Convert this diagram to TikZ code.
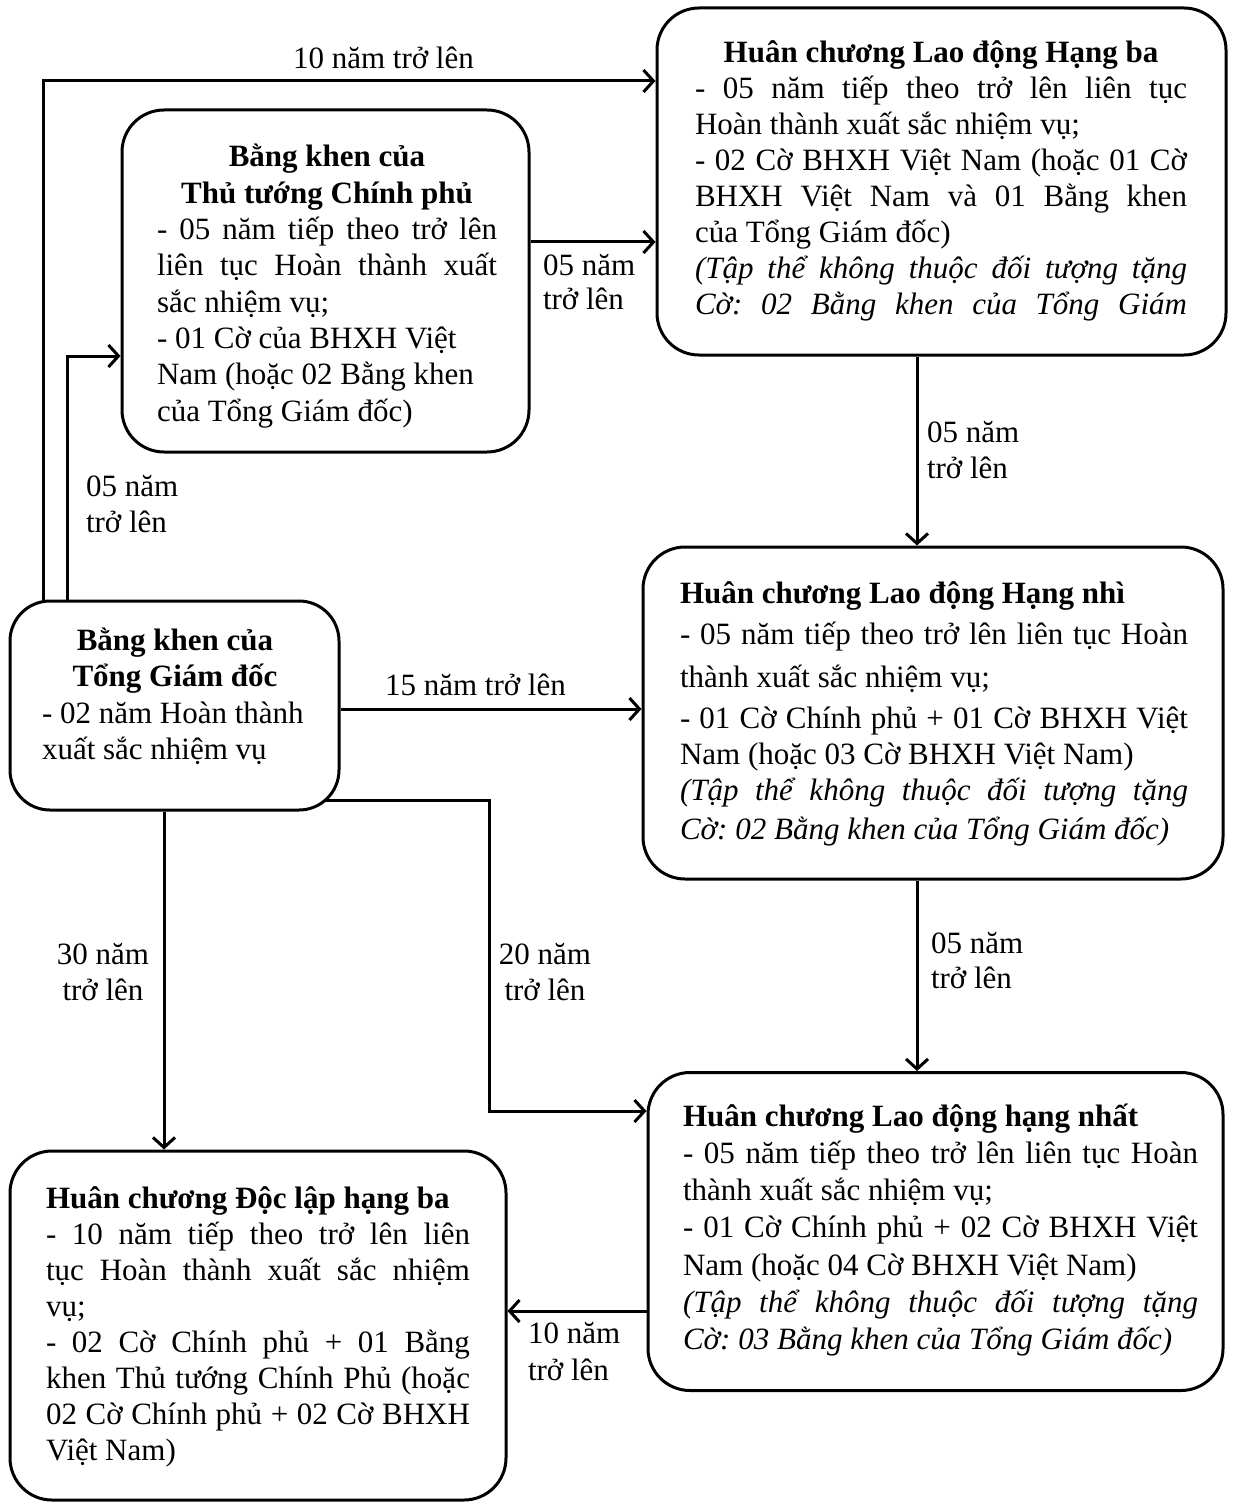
\documentclass[tikz,border=0pt]{standalone}
\usepackage{fontspec}
\setmainfont{Liberation Serif}
\usetikzlibrary{arrows.meta,calc}
\frenchspacing
\newcommand\JL[1]{\hbox to\hsize{#1}}
\newcommand\LL[1]{\hbox to\hsize{#1\hfil}}
\newcommand\CL[1]{\hbox to\hsize{\hfil#1\hfil}}
\newcommand\TB[3]{\vtop{\hsize=#1pt\baselineskip=#2pt\lineskiplimit=-100pt\lineskip=0pt #3}}
\tikzset{
  box/.style={draw, line width=3pt, rounded corners=42pt, inner sep=0pt},
  txt/.style={anchor=base west, inner sep=0pt, outer sep=0pt, font=\fontsize{31}{36}\selectfont\frenchspacing},
  arr/.style={line width=3pt, -{Straight Barb[length=10pt,width=22pt,line width=3pt]}}
}
\begin{document}
\begin{tikzpicture}[x=1pt,y=-1pt]
\fill[white] (0,0) rectangle (1238,1503);
\useasboundingbox (0,0) rectangle (1238,1503);
% boxes
\node[box, minimum width=407pt, minimum height=342pt] (ttg) at (325.5,281) {};
\node[box, minimum width=569pt, minimum height=347pt] (h3) at (941.5,181.5) {};
\node[box, minimum width=329pt, minimum height=209pt, rounded corners=40pt] (tgd) at (174.5,705.5) {};
\node[box, minimum width=580pt, minimum height=332pt] (h2) at (933,713) {};
\node[box, minimum width=575pt, minimum height=318pt] (h1) at (935.5,1231.5) {};
\node[box, minimum width=496pt, minimum height=349pt] (h0) at (258,1325.5) {};
% box texts
\node[txt] (ttgT) at (157,167) {\TB{340}{36.3}{%
\CL{\bfseries Bằng khen của}%
\CL{\bfseries Thủ tướng Chính phủ}%
\JL{- 05 năm tiếp theo trở lên}%
\JL{liên tục Hoàn thành xuất}%
\LL{sắc nhiệm vụ;}%
\LL{- 01 Cờ của BHXH Việt}%
\LL{Nam (hoặc 02 Bằng khen}%
\LL{của Tổng Giám đốc)}}};
\node[txt] (h3T) at (695,63) {\TB{492}{36}{%
\CL{\bfseries Huân chương Lao động Hạng ba}%
\JL{- 05 năm tiếp theo trở lên liên tục}%
\LL{Hoàn thành xuất sắc nhiệm vụ;}%
\JL{- 02 Cờ BHXH Việt Nam (hoặc 01 Cờ}%
\JL{BHXH Việt Nam và 01 Bằng khen}%
\LL{của Tổng Giám đốc)}%
\JL{\itshape (Tập thể không thuộc đối tượng tặng}%
\JL{\itshape Cờ: 02 Bằng khen của Tổng Giám}}};
\node[txt] (tgdT) at (42,650) {\TB{266}{36.5}{%
\CL{\bfseries Bằng khen của}%
\CL{\bfseries Tổng Giám đốc}%
\LL{- 02 năm Hoàn thành}%
\LL{xuất sắc nhiệm vụ}}};
\node[txt] (h2T) at (680,603) {\TB{508}{36}{%
\LL{\bfseries Huân chương Lao động Hạng nhì}\vskip5pt
\JL{- 05 năm tiếp theo trở lên liên tục Hoàn}\vskip7pt
\LL{thành xuất sắc nhiệm vụ;}\vskip5pt
\JL{- 01 Cờ Chính phủ + 01 Cờ BHXH Việt}%
\LL{Nam (hoặc 03 Cờ BHXH Việt Nam)}%
\JL{\itshape (Tập thể không thuộc đối tượng tặng}\vskip3pt
\LL{\itshape Cờ: 02 Bằng khen của Tổng Giám đốc)}}};
\node[txt] (h1T) at (683,1126) {\TB{515}{37.3}{%
\LL{\bfseries Huân chương Lao động hạng nhất}%
\JL{- 05 năm tiếp theo trở lên liên tục Hoàn}%
\LL{thành xuất sắc nhiệm vụ;}%
\JL{- 01 Cờ Chính phủ + 02 Cờ BHXH Việt}%
\LL{Nam (hoặc 04 Cờ BHXH Việt Nam)}%
\JL{\itshape (Tập thể không thuộc đối tượng tặng}%
\LL{\itshape Cờ: 03 Bằng khen của Tổng Giám đốc)}}};
\node[txt] (h0T) at (46,1208) {\TB{424}{36}{%
\LL{\bfseries Huân chương Độc lập hạng ba}%
\JL{- 10 năm tiếp theo trở lên liên}%
\JL{tục Hoàn thành xuất sắc nhiệm}%
\LL{vụ;}%
\JL{- 02 Cờ Chính phủ + 01 Bằng}%
\JL{khen Thủ tướng Chính Phủ (hoặc}%
\JL{02 Cờ Chính phủ + 02 Cờ BHXH}%
\LL{Việt Nam)}}};
% labels
\node[txt] (l10a) at (293,69) {10 năm trở lên};
\node[txt] (l05a) at (543,276) {\TB{100}{34}{\LL{05 năm}\LL{trở lên}}};
\node[txt] (l05b) at (86,496) {\TB{100}{36}{\LL{05 năm}\LL{trở lên}}};
\node[txt] (l15) at (385,695) {15 năm trở lên};
\node[txt] (l30) at (53,964) {\TB{100}{36}{\CL{30 năm}\CL{trở lên}}};
\node[txt] (l20) at (495,964) {\TB{100}{36}{\CL{20 năm}\CL{trở lên}}};
\node[txt] (l05c) at (927,442) {\TB{100}{36}{\LL{05 năm}\LL{trở lên}}};
\node[txt] (l05d) at (931,953) {\TB{100}{35}{\LL{05 năm}\LL{trở lên}}};
\node[txt] (l10b) at (528,1343) {\TB{100}{37}{\LL{10 năm}\LL{trở lên}}};
% connectors
\coordinate (k1) at (43,81);
\coordinate (k2) at (67,356);
\coordinate (k3) at (0,242);
\coordinate (k4) at (917,0);
\coordinate (k5) at (0,709);
\coordinate (k6) at (324,800);
\coordinate (k7) at (489,1111);
\coordinate (k8) at (164,0);
\coordinate (k9) at (0,1311);
\draw[arr] (tgd.north -| k1) |- (h3.west |- k1);
\draw[arr] (tgd.north -| k2) |- (ttg.west |- k2);
\draw[arr] (ttg.east |- k3) -- (h3.west |- k3);
\draw[arr] (h3.south -| k4) -- (h2.north -| k4);
\draw[arr] (tgd.east |- k5) -- (h2.west |- k5);
\draw[arr] (k6) -| (k7) -- (h1.west |- k7);
\draw[arr] (tgd.south -| k8) -- (h0.north -| k8);
\draw[arr] (h2.south -| k4) -- (h1.north -| k4);
\draw[arr] (h1.west |- k9) -- (h0.east |- k9);
\end{tikzpicture}
\end{document}
